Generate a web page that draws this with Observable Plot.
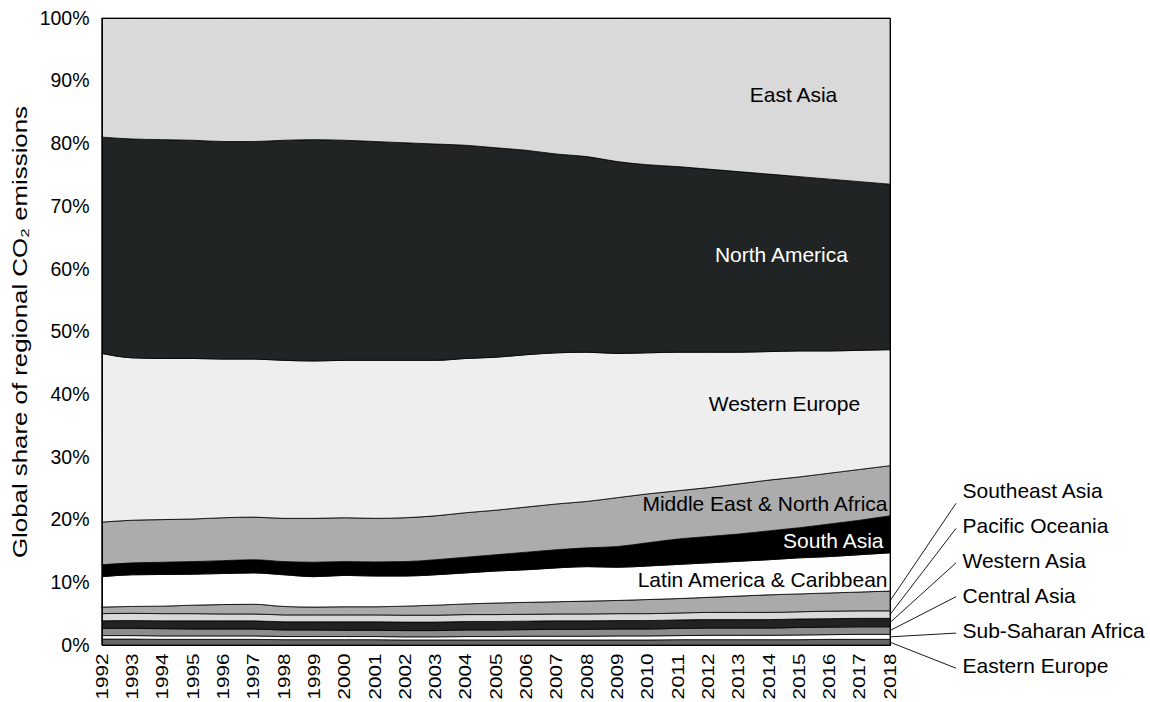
<!DOCTYPE html>
<html>
<head>
<meta charset="utf-8">
<script src="https://cdn.jsdelivr.net/npm/d3@7"></script>
<script src="https://cdn.jsdelivr.net/npm/@observablehq/plot@0.6"></script>
<style>
  body { margin: 0; background: #fff; }
  #chart svg { font-family: "Liberation Sans", Arial, Helvetica, sans-serif; }
</style>
</head>
<body>
<div id="chart"></div>
<script>
// ---- data (percent share of regional CO2 emissions), years 1992..2018 ----
const years = [1992,1993,1994,1995,1996,1997,1998,1999,2000,2001,2002,2003,2004,2005,2006,2007,2008,2009,2010,2011,2012,2013,2014,2015,2016,2017,2018];

// stacking order: bottom to top
const regions = ["Eastern Europe","Sub-Saharan Africa","Central Asia","Western Asia","Pacific Oceania","Southeast Asia","Latin America & Caribbean","South Asia","Middle East & North Africa","Western Europe","North America","East Asia"];
const fills   = ["#666666","#ffffff","#8c8c8c","#222222","#d9d9d9","#aaaaaa","#ffffff","#000000","#acacac","#eeeeee","#212424","#d9d9d9"];

const easternEurope = [0.95,0.95,0.9,0.9,0.9,0.9,0.85,0.85,0.85,0.85,0.8,0.8,0.8,0.8,0.8,0.8,0.8,0.8,0.8,0.85,0.85,0.85,0.85,0.85,0.9,0.9,0.9];
const subSaharan    = [0.55,0.55,0.55,0.55,0.55,0.55,0.5,0.5,0.5,0.5,0.5,0.5,0.55,0.55,0.6,0.6,0.6,0.65,0.65,0.65,0.7,0.7,0.7,0.75,0.75,0.8,0.8];
const centralAsia   = [1.15,1.15,1.15,1.1,1.1,1.1,1.05,1.05,1.0,1.0,1.0,1.0,1.05,1.05,1.05,1.1,1.1,1.1,1.1,1.15,1.15,1.15,1.15,1.2,1.2,1.2,1.2];
const westernAsia   = [1.2,1.25,1.25,1.3,1.3,1.3,1.3,1.3,1.35,1.35,1.35,1.35,1.35,1.35,1.35,1.35,1.35,1.35,1.35,1.35,1.35,1.35,1.35,1.35,1.35,1.35,1.35];
const pacific       = [1.15,1.15,1.15,1.15,1.1,1.1,1.1,1.1,1.1,1.1,1.1,1.1,1.1,1.1,1.1,1.1,1.1,1.1,1.1,1.1,1.15,1.15,1.15,1.15,1.2,1.2,1.2];
const southeastAsia = [1.05,1.1,1.2,1.35,1.5,1.55,1.35,1.25,1.3,1.3,1.45,1.6,1.7,1.85,1.9,1.95,2.05,2.1,2.25,2.3,2.4,2.6,2.8,2.85,2.9,3.0,3.15];
const latinAmerica  = [4.85,5.05,5.05,4.95,4.95,5.0,5.05,4.85,5.0,4.9,4.8,4.85,4.95,5.1,5.2,5.4,5.5,5.3,5.35,5.45,5.5,5.55,5.6,5.75,5.8,5.95,6.1];
const southAsia     = [1.9,1.9,1.95,2.0,2.05,2.1,2.1,2.3,2.2,2.25,2.3,2.4,2.5,2.6,2.8,2.9,3.0,3.3,3.7,4.05,4.2,4.35,4.6,4.8,5.2,5.5,5.9];
const middleEast    = [6.8,6.8,6.8,6.8,6.85,6.8,6.9,7.0,7.0,6.95,7.0,7.0,7.1,7.1,7.2,7.3,7.4,7.8,7.8,7.7,7.8,8.0,8.1,8.1,8.1,8.1,8.0];
const westernEurope = [26.9,25.9,25.7,25.6,25.3,25.2,25.2,25.1,25.1,25.2,25.1,24.8,24.6,24.4,24.3,24.1,23.8,23.0,22.5,22.1,21.6,21.0,20.5,20.1,19.5,19.0,18.5];
const northAmerica  = [34.5,34.9,34.9,34.8,34.7,34.7,35.1,35.3,35.1,34.9,34.7,34.5,34.0,33.4,32.6,31.7,31.2,30.6,30.0,29.6,29.2,28.8,28.3,27.8,27.4,26.9,26.4];
const eastAsia      = [19.0,19.3,19.4,19.5,19.7,19.7,19.5,19.4,19.5,19.7,19.9,20.1,20.3,20.7,21.1,21.7,22.1,22.9,23.4,23.7,24.1,24.5,24.9,25.3,25.7,26.1,26.5];

const seriesList = [easternEurope, subSaharan, centralAsia, westernAsia, pacific, southeastAsia, latinAmerica, southAsia, middleEast, westernEurope, northAmerica, eastAsia];

const yTicks = [0,10,20,30,40,50,60,70,80,90,100];

// labels inside the plot
const innerLabels = ["East Asia","North America","Western Europe","Middle East & North Africa","South Asia","Latin America & Caribbean"];
const innerX      = [2014.8, 2014.4, 2014.5, 2018, 2018, 2018];
const innerY      = [87.7, 62.2, 38.4, 22.6, 16.6, 10.4];
const innerAnchor = ["middle","middle","middle","end","end","end"];
const innerDx     = [0, 0, 0, -3, -7, -3];
const innerFill   = ["black","white","black","black","white","black"];

// labels at the right with leader lines
const rightLabels = ["Southeast Asia","Pacific Oceania","Western Asia","Central Asia","Sub-Saharan Africa","Eastern Europe"];
const rightY      = [24.6, 19.0, 13.4, 7.8, 2.2, -3.3];
const leaderY     = [22.6, 18.6, 13.1, 7.7, 1.9, -3.7];

// ---- build table ----
const table = regions.flatMap((r, i) => years.map((yr, j) => ({year: yr, region: r, share: seriesList[i][j]})));

const FONT = "Liberation Sans, Arial, Helvetica, sans-serif";

function leaders(index, scales) {
  const x0 = scales.x(2018);
  const g = d3.create("svg:g").attr("stroke", "black").attr("stroke-width", 0.9).attr("fill", "none");
  rightLabels.forEach((r, i) => {
    const k = regions.indexOf(r);
    const last = years.length - 1;
    const below = d3.sum(seriesList.slice(0, k), s => s[last]);
    const mid = below + seriesList[k][last] / 2;
    g.append("line")
      .attr("x1", x0).attr("y1", scales.y(mid))
      .attr("x2", x0 + 66).attr("y2", scales.y(leaderY[i]));
  });
  return g.node();
}

const chart = Plot.plot({
  width: 1150,
  height: 702,
  marginLeft: 102,
  marginRight: 260,
  marginTop: 18,
  marginBottom: 57,
  style: {fontFamily: FONT, fontSize: "19px", background: "white", overflow: "visible"},
  x: {domain: [1992, 2018]},
  y: {domain: [0, 100]},
  color: {type: "ordinal", domain: regions, range: fills},
  marks: [
    Plot.areaY(table, {
      x: "year", y: "share", z: "region", fill: "region",
      order: regions, curve: "monotone-x",
      stroke: "black", strokeWidth: 0.8
    }),
    Plot.frame({stroke: "black", strokeWidth: 1}),
    Plot.axisY({
      ticks: yTicks, tickFormat: d => d + "%", tickSize: 0, tickPadding: 13,
      fontSize: 19.5, label: "Global share of regional CO₂ emissions",
      labelAnchor: "center", labelOffset: 90, labelArrow: "none"
    }),
    Plot.axisX({
      ticks: years, tickFormat: d => String(d), tickRotate: -90, tickSize: 0,
      tickPadding: 8, fontSize: 16.5, label: null
    }),
    ...innerLabels.map((t, i) => Plot.text([t], {
      x: innerX[i], y: innerY[i], text: d => d,
      textAnchor: innerAnchor[i], dx: innerDx[i], fill: innerFill[i], fontSize: 21
    })),
    Plot.text(rightLabels, {
      x: () => 2018, y: (d, i) => rightY[i], text: d => d,
      textAnchor: "start", dx: 72, fill: "black", fontSize: 21
    }),
    leaders
  ]
});

// the reference text is slightly stretched along its reading direction for rotated labels
const svg = d3.select(chart);
svg.selectAll("g[aria-label='x-axis tick label'] text")
  .attr("textLength", 46).attr("lengthAdjust", "spacingAndGlyphs");
svg.selectAll("g[aria-label='y-axis label'] text")
  .attr("font-size", 20).attr("textLength", 452).attr("lengthAdjust", "spacingAndGlyphs");

document.getElementById("chart").appendChild(chart);
</script>
</body>
</html>
